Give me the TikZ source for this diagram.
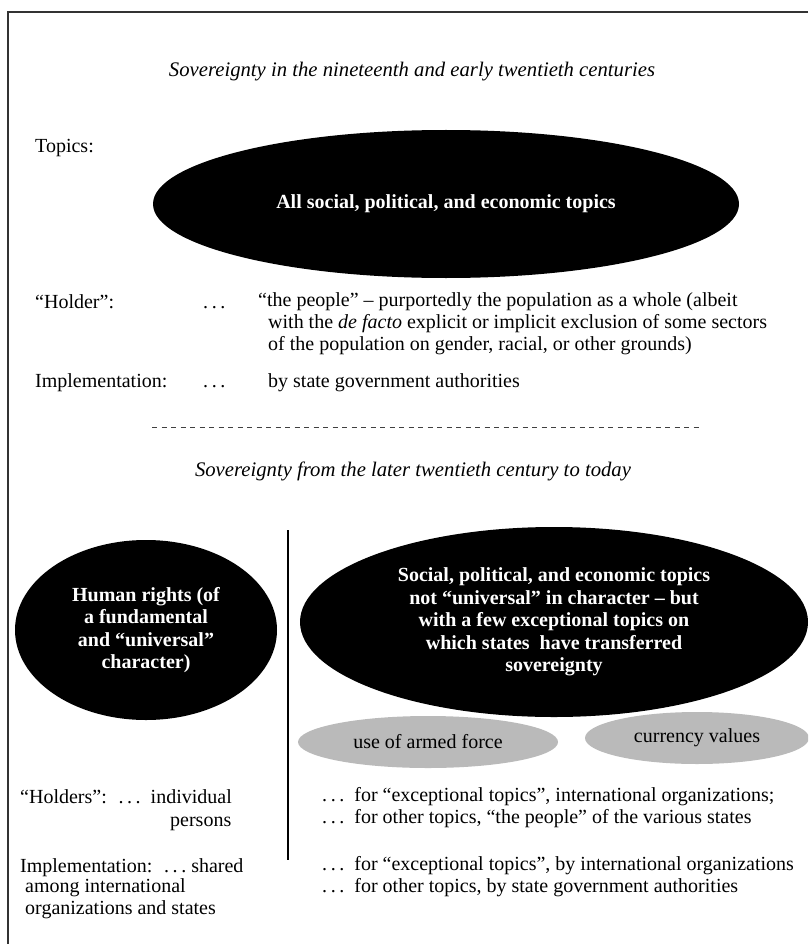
\documentclass[tikz,border=0pt]{standalone}
\usepackage{fontspec}
\setmainfont{Liberation Serif}
\usetikzlibrary{positioning,shapes.geometric}

\newcommand{\spdots}{.\hspace{3.6pt}.\hspace{3.6pt}.}

\tikzset{
  txt/.style={font=\fontsize{20}{22}\selectfont, inner sep=0pt, anchor=base west, align=left},
  head/.style={font=\fontsize{20.7}{22}\selectfont\itshape, inner sep=0pt},
  blob/.style={ellipse, fill=black, text=white, inner sep=0pt, align=center,
    font=\fontsize{20}{22.5}\selectfont\bfseries},
  pill/.style={ellipse, fill=black!27, inner sep=0pt, font=\fontsize{20}{22}\selectfont},
}

\begin{document}
\begin{tikzpicture}[x=1pt,y=-1pt]
    \useasboundingbox (0,0) rectangle (808,944);
    \clip (0,0) rectangle (808,944);
    % frame
    \coordinate (tl) at (8,12);
    \draw[line width=1.2pt, black!80] (808,12) -- (tl) -- (8,944);

    % nineteenth century part
    \node[head] (head1) at (412,72) {Sovereignty in the nineteenth and early twentieth centuries};
    \node[txt] (topics) at (35,153) {Topics:};
    \node[blob, minimum width=586pt, minimum height=148pt] (all) at (446,204)
        {All social, political, and economic topics};
    \node[txt] (holder) at (35,308) {“Holder”:};
    \node[txt] (hdots) at (203,308) {\spdots};
    \node[txt, anchor=north west] (people) at (258,292)
        {“the people” – purportedly the population as a whole (albeit\\
         \hspace*{10pt}with the \textit{de facto} explicit or implicit exclusion of some sectors\\
         \hspace*{10pt}of the population on gender, racial, or other grounds)};
    \node[txt] (impl) at (35,387) {Implementation:};
    \node[txt] (idots) at (203,387) {\spdots};
    \node[txt] (istate) at (268,387) {by state government authorities};

    \coordinate (dashL) at (152,427);
    \coordinate (dashR) at (700,427);
    \draw[dashed, black!75, dash pattern=on 5pt off 4.5pt] (dashL) -- (dashR);

    % later twentieth century part
    \node[head] (head2) at (413,471) {Sovereignty from the later twentieth century to today};
    \coordinate (vtop) at (288,530);
    \coordinate (vbot) at (288,860);
    \draw[line width=1.2pt] (vtop) -- (vbot);

    \node[blob, minimum width=262pt, minimum height=180pt] (rights) at (146,630)
        {Human rights (of\\a fundamental\\and “universal”\\character)};
    \node[blob, minimum width=508pt, minimum height=190pt] (topics2) at (554,622)
        {Social, political, and economic topics\\not “universal” in character – but\\with a few exceptional topics on\\which states\ \ have transferred\\sovereignty};
    \node[pill, minimum width=260pt, minimum height=52pt] (force) at (428,742) {use of armed force};
    \node[pill, minimum width=224pt, minimum height=52pt] (currency) at (697,738) {currency values};

    \node[txt] (holders) at (20,803) {“Holders”: \ \spdots\ \ individual};
    \node[txt] (persons) at (170,826) {persons};
    \node[txt] (impl2) at (20,872) {Implementation: \ \spdots\ shared};
    \node[txt, anchor=north west] (among) at (25,878) {among international\\organizations and states};

    \node[txt, anchor=north west] (hright) at (322,787)
        {\spdots\ \ for “exceptional topics”, international organizations;\\
         \spdots\ \ for other topics, “the people” of the various states};
    \node[txt, anchor=north west] (iright) at (322,856)
        {\spdots\ \ for “exceptional topics”, by international organizations\\
         \spdots\ \ for other topics, by state government authorities};
\end{tikzpicture}
\end{document}
